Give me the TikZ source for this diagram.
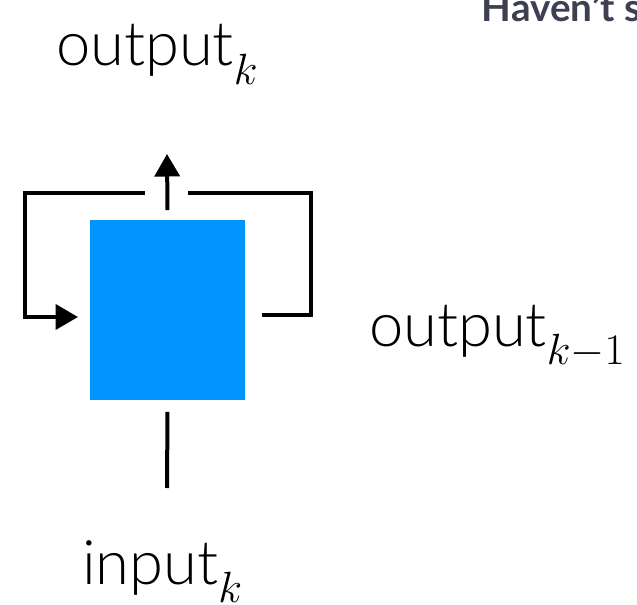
\documentclass[tikz,border=0pt]{standalone}
\usepackage{fontspec}
\setmainfont{Lato Light}[BoldFont=Lato Bold]
\usetikzlibrary{arrows.meta}
\definecolor{cellblue}{RGB}{0,148,255}
\definecolor{slidegray}{RGB}{62,64,82}
\newcommand{\lowsub}[1]{\raisebox{-0.38cm}{\fontsize{25}{25}\selectfont$#1$}}

\begin{document}
\begin{tikzpicture}[x=0.02cm, y=-0.02cm, line width=0.08cm,
    lbl/.style={font=\fontsize{35}{40}\selectfont, inner sep=0pt, anchor=base west},
    tip/.style={-{Triangle[length=0.45cm, width=0.5cm]}}]
  \useasboundingbox (0,0) rectangle (637,605);

  % ── recurrent cell ───────────────────────────────────────────────────────
  \node[fill=cellblue, minimum width=3.1cm, minimum height=3.6cm, inner sep=0pt]
    (cell) at (167.5,310) {};

  % ── labels ───────────────────────────────────────────────────────────────
  \node[lbl] (out)  at (54,66)  {output\lowsub{k}};
  \node[lbl] (prev) at (367,346) {output\lowsub{k{-}1}};
  \node[lbl] (in)   at (80,584) {input\lowsub{k}};
  \node[font=\fontsize{22}{24}\bfseries\selectfont, text=slidegray,
        inner sep=0pt, anchor=base west] (slide) at (480,22) {Haven’t s};

  % ── free ends ────────────────────────────────────────────────────────────
  \coordinate (upend)  at (167,154);
  \coordinate (lstart) at (145,193);
  \coordinate (rstart) at (188,193);
  \coordinate (inend)  at (167,488);

  % ── connectors ───────────────────────────────────────────────────────────
  \draw[tip] ([yshift=0.16cm]cell.north) -- (upend);
  \draw[tip] (lstart) -- (25,193) -- (25,317) -- ([xshift=-0.2cm]cell.west |- 0,317);
  \draw (rstart) -- (311,193) -- (311,315) -- ([xshift=0.3cm]cell.east |- 0,315);
  \draw ([yshift=-0.2cm]cell.south) -- (inend);

\end{tikzpicture}
\end{document}
